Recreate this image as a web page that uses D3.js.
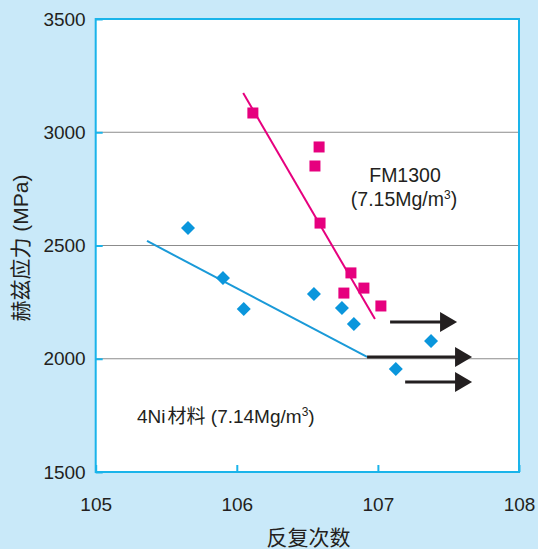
<!DOCTYPE html>
<html><head><meta charset="utf-8">
<script src="https://cdn.jsdelivr.net/npm/d3@7/dist/d3.min.js"></script>
<style>
html,body{margin:0;padding:0;background:#c9e9f9;}
svg{display:block;}
text{font-family:"Liberation Sans","Noto Sans CJK SC",Arial,sans-serif;fill:#231f20;}
</style></head>
<body>
<script>
// ---- data ----
const xTicks = [1e5, 1e6, 1e7, 1e8];
const xTickLabels = ["105", "106", "107", "108"];
const yTicks = [1500, 2000, 2500, 3000, 3500];
const fmCycles = [1.30e6, 3.83e6, 3.58e6, 3.89e6, 6.44e6, 5.74e6, 7.96e6, 1.05e7];
const fmStress = [3085, 2935, 2851, 2599, 2379, 2290, 2312, 2233];
const fmFitCycles = [1.11e6, 9.53e6];
const fmFitStress = [3173, 2175];
const niCycles = [4.51e5, 7.98e5, 1.12e6, 3.52e6, 5.56e6, 6.76e6, 2.38e7, 1.34e7];
const niStress = [2577, 2357, 2220, 2286, 2224, 2153, 2078, 1955];
const niFitCycles = [2.31e5, 8.38e6];
const niFitStress = [2520, 2008];
// run-out arrows: start cycles, end cycles, stress
const arrowStart = [1.22e7, 8.38e6, 1.56e7];
const arrowEnd = [3.64e7, 4.65e7, 4.65e7];
const arrowStress = [2162, 2008, 1897];

const W = 538, H = 549;
const L = 95.7, R = 519, T = 19, B = 472;
const frameColor = "#1ab4ea", pink = "#e6007e", blue = "#0a96dc", blueLine = "#1a9ad8", dark = "#231f20";

const svg = d3.select("body").append("svg").attr("width", W).attr("height", H);
svg.append("rect").attr("width", W).attr("height", H).attr("fill", "#c9e9f9");

const x = d3.scaleLog().domain([1e5, 1e8]).range([L, R]);
const y = d3.scaleLinear().domain([1500, 3500]).range([B, T]);

svg.append("rect").attr("x", L).attr("y", T).attr("width", R - L).attr("height", B - T).attr("fill", "#fff");

// grid
svg.append("g").selectAll("line").data(yTicks.filter(d => d > 1500 && d < 3500)).join("line")
  .attr("x1", L).attr("x2", R).attr("y1", d => y(d)).attr("y2", d => y(d))
  .attr("stroke", "#8c8c8c").attr("stroke-width", 1);

// axes
const yAxis = d3.axisLeft(y).tickValues(yTicks).tickSize(-7).tickPadding(10).tickFormat(d3.format("d"));
const gy = svg.append("g").attr("transform", `translate(${L},0)`).call(yAxis);
const xAxis = d3.axisBottom(x).tickValues(xTicks).tickSize(-7).tickPadding(26)
  .tickFormat((d, i) => xTickLabels[i]);
const gx = svg.append("g").attr("transform", `translate(0,${B})`).call(xAxis);
[gx, gy].forEach(g => {
  g.select(".domain").remove();
  g.selectAll(".tick line").attr("stroke", frameColor).attr("stroke-width", 2);
  g.selectAll(".tick text").attr("font-size", 19).attr("fill", dark)
    .attr("font-family", "Liberation Sans, Arial, sans-serif");
});
gx.selectAll(".tick text").attr("dy", "0.71em");

// frame
svg.append("rect").attr("x", L).attr("y", T).attr("width", R - L).attr("height", B - T)
  .attr("fill", "none").attr("stroke", frameColor).attr("stroke-width", 2);

// fit lines
const line = d3.line().x(d => x(d[0])).y(d => y(d[1]));
svg.append("path").attr("d", line(d3.zip(fmFitCycles, fmFitStress)))
  .attr("stroke", pink).attr("stroke-width", 2).attr("fill", "none");
svg.append("path").attr("d", line(d3.zip(niFitCycles, niFitStress)))
  .attr("stroke", blueLine).attr("stroke-width", 2).attr("fill", "none");

// arrows
const arrows = d3.range(arrowStart.length).map(i => ({ s: arrowStart[i], e: arrowEnd[i], v: arrowStress[i] }));
const ag = svg.append("g");
ag.selectAll("line").data(arrows).join("line")
  .attr("x1", d => x(d.s)).attr("x2", d => x(d.e) - 12).attr("y1", d => y(d.v)).attr("y2", d => y(d.v))
  .attr("stroke", dark).attr("stroke-width", 3);
ag.selectAll("path").data(arrows).join("path")
  .attr("d", d => { const tx = x(d.e), ty = y(d.v); return `M${tx},${ty}L${tx - 17},${ty - 10}L${tx - 17},${ty + 10}Z`; })
  .attr("fill", dark);

// markers
const fm = d3.zip(fmCycles, fmStress);
svg.append("g").selectAll("rect").data(fm).join("rect")
  .attr("x", d => x(d[0]) - 5.5).attr("y", d => y(d[1]) - 5.5).attr("width", 11).attr("height", 11)
  .attr("fill", pink);
const ni = d3.zip(niCycles, niStress);
svg.append("g").selectAll("path").data(ni).join("path")
  .attr("d", d => { const cx = x(d[0]), cy = y(d[1]), r = 7; return `M${cx},${cy - r}L${cx + r},${cy}L${cx},${cy + r}L${cx - r},${cy}Z`; })
  .attr("fill", blue);

// annotations
svg.append("text").attr("x", 405).attr("y", 182).attr("text-anchor", "middle").attr("font-size", 19.5).text("FM1300");
const t2 = svg.append("text").attr("x", 404).attr("y", 206).attr("text-anchor", "middle").attr("font-size", 19.5);
t2.append("tspan").text("(7.15Mg/m");
t2.append("tspan").attr("font-size", 12).attr("dy", -7).text("3");
t2.append("tspan").attr("dy", 7).text(")");

const t3 = svg.append("text").attr("x", 137).attr("y", 423).attr("font-size", 19);
t3.append("tspan").text("4Ni");
t3.append("tspan").attr("dx", 2).attr("font-family", "Noto Sans CJK SC").text("材料");
t3.append("tspan").text(" (7.14Mg/m");
t3.append("tspan").attr("font-size", 12).attr("dy", -7).text("3");
t3.append("tspan").attr("dy", 7).text(")");

// axis titles
svg.append("text").attr("x", 308.5).attr("y", 545).attr("text-anchor", "middle")
  .attr("font-size", 21).attr("font-family", "Noto Sans CJK SC").text("反复次数");
svg.append("text").attr("transform", "translate(28,248) rotate(-90)").attr("text-anchor", "middle")
  .attr("font-size", 21).attr("font-family", "Noto Sans CJK SC").text("赫兹应力 (MPa)");
</script>
</body></html>
